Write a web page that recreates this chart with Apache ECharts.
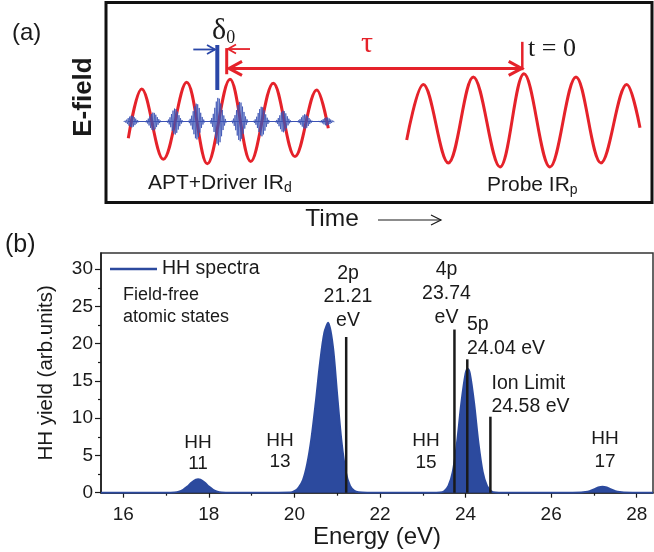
<!DOCTYPE html>
<html>
<head>
<meta charset="utf-8">
<title>APT + IR pump-probe, HH spectra</title>
<script src="https://cdn.jsdelivr.net/npm/echarts@6/dist/echarts.min.js"></script>
<style>
  html, body { margin: 0; padding: 0; background: #fff; }
  #chart { width: 654px; height: 552px; }
</style>
</head>
<body>
<div id="chart"></div>
<script>
// ---- (a) schematic fields, time in arb. units, t = 0 at the probe crest ----
// driver IR: end points and extrema
const driverT = [-39.47, -38.13, -35.97, -33.63, -31.57, -29.3, -27.23, -24.97, -22.8, -20.63, -19.47]
const driverE = [-0.37, 0.72, -0.84, 0.87, -0.94, 0.94, -0.89, 0.85, -0.78, 0.7, -0.15]
// probe IR
const probeT = [-11.63, -9.97, -7.47, -4.97, -2.3, 0.1, 2.7, 5.3, 7.8, 10.37, 11.7]
const probeE = [-0.41, 0.82, -0.92, 0.99, -1.01, 1.06, -1.01, 0.99, -0.92, 0.82, -0.14]
// attosecond pulse train: burst centres and envelope heights
const aptT = [-39.13, -36.97, -34.8, -32.63, -30.47, -28.3, -26.13, -23.97, -21.8, -19.63]
const aptAmp = [0.13, 0.2, 0.29, 0.4, 0.53, 0.44, 0.33, 0.24, 0.16, 0.09]
const aptSpan = [-39.5, -19.2]

// delay markers [t1, E1, t2, E2]
const aptCrest = [-30.57, 1.7, -30.57, 0.7]
const driverCrest = [-29.63, 1.63, -29.63, 1.05]
const probeCrest = [-0.07, 1.77, -0.07, 1.14]
const deltaIn = [-32.97, 1.6, -30.8, 1.6]
const deltaOut = [-27.3, 1.61, -29.5, 1.61]
const tauSpan = [-29.4, 1.18, -0.13, 1.18]

// ---- (b) HH spectrum ----
const energy = [15.48, 16.0, 17.0, 17.2, 17.3, 17.4, 17.5, 17.6, 17.7, 17.75, 17.8, 17.9, 18.0, 18.1, 18.2, 18.3, 18.5,
  19.5, 19.9, 20.0, 20.1, 20.2, 20.3, 20.4, 20.5, 20.6, 20.7, 20.79, 20.9, 21.0, 21.1, 21.2, 21.3, 21.4, 21.5, 21.7,
  23.2, 23.4, 23.5, 23.6, 23.7, 23.8, 23.9, 24.0, 24.05, 24.1, 24.2, 24.3, 24.4, 24.5, 24.6, 24.7, 24.9,
  26.5, 26.7, 26.8, 26.9, 27.0, 27.1, 27.2, 27.3, 27.4, 27.5, 27.6, 27.7, 27.9, 28.38]
const hhYield = [0, 0, 0, 0.04, 0.14, 0.39, 0.82, 1.36, 1.75, 1.8, 1.75, 1.36, 0.82, 0.39, 0.14, 0.04, 0,
  0, 0.02, 0.2, 0.7, 1.7, 3.9, 7.4, 12.2, 17.5, 21.5, 22.8, 19.6, 13.1, 6.9, 2.8, 0.9, 0.25, 0.05, 0,
  0, 0.03, 0.2, 0.9, 2.8, 6.7, 12.0, 16.0, 16.6, 16.0, 12.0, 6.7, 2.8, 0.9, 0.2, 0.03, 0,
  0, 0.02, 0.08, 0.21, 0.43, 0.69, 0.8, 0.69, 0.43, 0.21, 0.08, 0.02, 0, 0]

// field-free atomic states (eV) and drawn line heights
const stateE = [21.21, 23.74, 24.04, 24.58]
const stateTop = [20.9, 21.9, 17.9, 10.2]

const xTicks = [16, 18, 20, 22, 24, 26, 28]
const xMinor = [17, 19, 21, 23, 25, 27]
const yTicks = [0, 5, 10, 15, 20, 25, 30]
const yMinor = [2.5, 7.5, 12.5, 17.5, 22.5, 27.5]

const sans = '"Liberation Sans", Arial, sans-serif'
const serif = '"Liberation Serif", "Times New Roman", serif'
const ink = '#1a1a1a'
const red = '#e5222a'
const specBlue = '#2c4a9e'
const aptBlue = '#3b52b4'
const barBlue = '#2a47a8'

const pairs = (xs, ys) => xs.map((x, i) => [x, ys[i]])

const marks = [
  { seg: aptCrest, color: barBlue, width: 4 },
  { seg: driverCrest, color: red, width: 3 },
  { seg: probeCrest, color: red, width: 2.5 },
  { seg: deltaIn, color: barBlue, width: 1.8, head: [0, 1], size: [8, 4.5] },
  { seg: deltaOut, color: red, width: 1.8, head: [0, 1], size: [8, 4.5] },
  { seg: tauSpan, color: red, width: 3, head: [1, 1], size: [13, 7] },
]

// open arrow head at tip, pointing away from "from"
function chevron(tip, from, len, half) {
  const dx = tip[0] - from[0]
  const dy = tip[1] - from[1]
  const d = Math.hypot(dx, dy) || 1
  const ux = dx / d
  const uy = dy / d
  return [
    [tip[0] - ux * len - uy * half, tip[1] - uy * len + ux * half],
    tip,
    [tip[0] - ux * len + uy * half, tip[1] - uy * len - ux * half],
  ]
}

function renderMark(params, api) {
  const m = marks[params.dataIndex]
  const p1 = api.coord([api.value(0), api.value(1)])
  const p2 = api.coord([api.value(2), api.value(3)])
  const style = { stroke: m.color, lineWidth: m.width, fill: 'none' }
  const children = [{ type: 'line', shape: { x1: p1[0], y1: p1[1], x2: p2[0], y2: p2[1] }, style }]
  if (m.head) {
    if (m.head[0]) children.push({ type: 'polyline', shape: { points: chevron(p1, p2, m.size[0], m.size[1]) }, style })
    if (m.head[1]) children.push({ type: 'polyline', shape: { points: chevron(p2, p1, m.size[0], m.size[1]) }, style })
  }
  return { type: 'group', children }
}

// one attosecond burst: fast carrier under a short envelope (glyph only)
function renderBurst(params, api) {
  const c = api.coord([api.value(0), 0])
  const amp = api.size([0, api.value(1)])[1]
  const pts = []
  let k = 0
  for (let dx = -8; dx <= 8; dx += 0.75, k++) {
    const env = amp * Math.exp(-(dx * dx) / 22)
    pts.push([c[0] + dx, c[1] + (k % 2 ? env : -env)])
  }
  return { type: 'polyline', shape: { points: pts }, style: { stroke: aptBlue, lineWidth: 1, fill: 'none', opacity: 0.8 } }
}

function renderState(params, api) {
  const a = api.coord([api.value(0), 0])
  const b = api.coord([api.value(0), api.value(1)])
  return { type: 'line', shape: { x1: a[0], y1: a[1], x2: b[0], y2: b[1] }, style: { stroke: ink, lineWidth: 2.5 } }
}

function txt(x, y, text, size, extra) {
  return {
    type: 'text', x, y, z: 10,
    style: Object.assign({ text, fill: ink, fontSize: size, fontFamily: sans, verticalAlign: 'middle', align: 'left' }, extra),
  }
}

const chart = echarts.init(document.getElementById('chart'), null, { renderer: 'canvas' })

const eField = txt(84, 97, 'E-field', 26, { align: 'center', fontWeight: 'bold' })
eField.rotation = Math.PI / 2 // reads bottom-to-top

const option = {
  animation: false,
  backgroundColor: '#fff',
  grid: [
    { left: 106, top: 2.5, width: 546, height: 200, show: true, borderColor: '#111', borderWidth: 3, containLabel: false },
    { left: 101, top: 253, width: 552, height: 239.7, show: true, borderColor: '#333', borderWidth: 1.5, containLabel: false },
  ],
  xAxis: [
    { type: 'value', gridIndex: 0, min: -41.7, max: 12.9, show: false },
    {
      type: 'value', gridIndex: 1, position: 'bottom', min: 15.48, max: 28.38,
      splitLine: { show: false },
      axisLine: { lineStyle: { color: ink, width: 1.5 } },
      axisTick: { customValues: xTicks, length: 5, lineStyle: { color: ink, width: 1.2 } },
      axisLabel: { customValues: xTicks, color: ink, fontSize: 19, fontFamily: sans, margin: 13 },
      name: 'Energy (eV)', nameLocation: 'middle', nameGap: 33,
      nameTextStyle: { color: ink, fontSize: 24, fontFamily: sans },
    },
    {
      type: 'value', gridIndex: 1, position: 'bottom', min: 15.48, max: 28.38,
      splitLine: { show: false }, axisLine: { show: false }, axisLabel: { show: false },
      axisTick: { customValues: xMinor, length: 3, lineStyle: { color: ink, width: 1.2 } },
    },
  ],
  yAxis: [
    { type: 'value', gridIndex: 0, min: -1.8, max: 2.644, show: false },
    {
      type: 'value', gridIndex: 1, position: 'left', min: 0, max: 32.17,
      splitLine: { show: false },
      axisLine: { show: true, lineStyle: { color: ink, width: 1.5 } },
      axisTick: { show: true, customValues: yTicks, length: 6, lineStyle: { color: ink, width: 1.2 } },
      axisLabel: { customValues: yTicks, color: ink, fontSize: 19, fontFamily: sans, margin: 8 },
      name: 'HH yield (arb.units)', nameLocation: 'middle', nameGap: 44,
      nameTextStyle: { color: ink, fontSize: 20.5, fontFamily: sans },
    },
    {
      type: 'value', gridIndex: 1, position: 'left', min: 0, max: 32.17,
      splitLine: { show: false }, axisLine: { show: false }, axisLabel: { show: false },
      axisTick: { show: true, customValues: yMinor, length: 3, lineStyle: { color: ink, width: 1.2 } },
    },
  ],
  legend: {
    data: ['HH spectra'],
    left: 110, top: 259, padding: 0,
    icon: 'rect', itemWidth: 47, itemHeight: 2.5,
    textStyle: { color: ink, fontSize: 19.5, fontFamily: sans },
  },
  series: [
    // (a)
    {
      name: 'APT baseline', type: 'line', xAxisIndex: 0, yAxisIndex: 0,
      data: aptSpan.map((t) => [t, 0]), showSymbol: false,
      lineStyle: { color: aptBlue, width: 1.2 }, z: 2,
    },
    {
      name: 'APT', type: 'custom', xAxisIndex: 0, yAxisIndex: 0,
      data: pairs(aptT, aptAmp), renderItem: renderBurst, z: 3,
    },
    {
      name: 'Driver IR', type: 'line', xAxisIndex: 0, yAxisIndex: 0,
      data: pairs(driverT, driverE), smooth: 0.36, showSymbol: false,
      lineStyle: { color: red, width: 3 }, z: 2,
    },
    {
      name: 'Probe IR', type: 'line', xAxisIndex: 0, yAxisIndex: 0,
      data: pairs(probeT, probeE), smooth: 0.36, showSymbol: false,
      lineStyle: { color: red, width: 3 }, z: 2,
    },
    {
      name: 'delay', type: 'custom', xAxisIndex: 0, yAxisIndex: 0,
      data: marks.map((m) => m.seg), renderItem: renderMark, z: 4,
    },
    // (b)
    {
      name: 'HH spectra', type: 'line', xAxisIndex: 1, yAxisIndex: 1,
      data: pairs(energy, hhYield), smooth: 0.3, showSymbol: false,
      itemStyle: { color: specBlue },
      lineStyle: { color: specBlue, width: 2 },
      areaStyle: { color: specBlue, opacity: 1 }, z: 3,
    },
    {
      name: 'states', type: 'custom', xAxisIndex: 1, yAxisIndex: 1,
      data: pairs(stateE, stateTop), renderItem: renderState, z: 5,
    },
  ],
  graphic: [
    // (a)
    txt(12, 33, '(a)', 24),
    eField,
    txt(332, 219, 'Time', 24.5, { align: 'center' }),
    { type: 'line', shape: { x1: 378, y1: 220, x2: 441, y2: 220 }, style: { stroke: ink, lineWidth: 1.2 } },
    { type: 'polyline', shape: { points: [[431, 215], [441, 220], [431, 225]] }, style: { stroke: ink, lineWidth: 1.2, fill: 'none' } },
    txt(148, 183, '{a|APT+Driver IR}{s|d}', 21, {
      rich: { a: { fontSize: 21, fontFamily: sans, fill: ink, lineHeight: 24 }, s: { fontSize: 14, fontFamily: sans, fill: ink, verticalAlign: 'bottom' } },
    }),
    txt(487, 185, '{a|Probe IR}{s|p}', 21, {
      rich: { a: { fontSize: 21, fontFamily: sans, fill: ink, lineHeight: 24 }, s: { fontSize: 14, fontFamily: sans, fill: ink, verticalAlign: 'bottom' } },
    }),
    txt(212, 31, '{a|δ}{s|0}', 30, {
      rich: { a: { fontSize: 30, fontFamily: serif, fill: ink, lineHeight: 32 }, s: { fontSize: 18, fontFamily: serif, fill: ink, verticalAlign: 'bottom' } },
    }),
    txt(367, 44, 'τ', 30, { align: 'center', fontFamily: serif, fill: red }),
    txt(528, 49, 't = 0', 26, { fontFamily: serif }),
    // (b)
    txt(5, 245, '(b)', 25),
    txt(123, 295, 'Field-free', 18),
    txt(123, 317, 'atomic states', 18),
    txt(348, 296.7, '2p\n21.21\neV', 19.5, { align: 'center', lineHeight: 23.5 }),
    txt(446.5, 294, '4p\n23.74\neV', 19.5, { align: 'center', lineHeight: 24 }),
    txt(467, 336.7, '5p\n24.04 eV', 19.5, { lineHeight: 23.3 }),
    txt(491.5, 395, 'Ion Limit\n24.58 eV', 19.5, { lineHeight: 23.4 }),
    txt(198, 453.7, 'HH\n11', 19, { align: 'center', lineHeight: 21 }),
    txt(280, 451, 'HH\n13', 19, { align: 'center', lineHeight: 21 }),
    txt(426, 452, 'HH\n15', 19, { align: 'center', lineHeight: 22 }),
    txt(605, 450, 'HH\n17', 19, { align: 'center', lineHeight: 23 }),
  ],
}

chart.setOption(option)
</script>
</body>
</html>
